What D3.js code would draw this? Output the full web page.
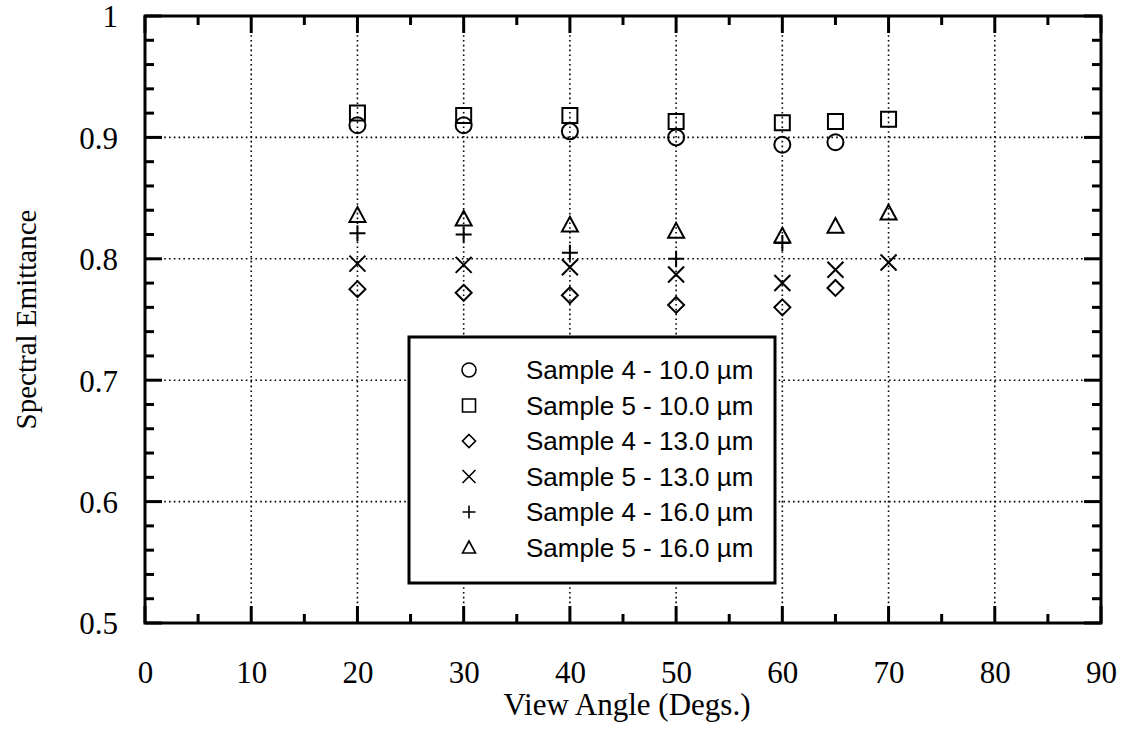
<!DOCTYPE html>
<html><head><meta charset="utf-8">
<script src="https://cdn.jsdelivr.net/npm/d3@7"></script>
<style>body{margin:0;background:#fff}svg{display:block}</style>
</head><body>
<svg id="c" width="1124" height="740"></svg>
<script>
const xTicks = [0,10,20,30,40,50,60,70,80,90];
const yTicks = [0.5,0.6,0.7,0.8,0.9,1];
const yTickLabels = ["0.5","0.6","0.7","0.8","0.9","1"];
const seriesNames = ["Sample 4 - 10.0 \u00b5m","Sample 5 - 10.0 \u00b5m","Sample 4 - 13.0 \u00b5m","Sample 5 - 13.0 \u00b5m","Sample 4 - 16.0 \u00b5m","Sample 5 - 16.0 \u00b5m"];
const seriesShapes = ["circle","square","diamond","times","plus","triangle"];
const s4_10_x = [20,30,40,50,60,65];
const s4_10_y = [0.910,0.910,0.905,0.900,0.894,0.896];
const s5_10_x = [20,30,40,50,60,65,70];
const s5_10_y = [0.920,0.918,0.918,0.913,0.912,0.913,0.915];
const s4_13_x = [20,30,40,50,60,65];
const s4_13_y = [0.775,0.772,0.770,0.762,0.760,0.776];
const s5_13_x = [20,30,40,50,60,65,70];
const s5_13_y = [0.796,0.795,0.793,0.787,0.780,0.791,0.797];
const s4_16_x = [20,30,40,50,60];
const s4_16_y = [0.821,0.820,0.805,0.800,0.813];
const s5_16_x = [20,30,40,50,60,65,70];
const s5_16_y = [0.836,0.833,0.828,0.823,0.819,0.827,0.838];

const seriesX = [s4_10_x,s5_10_x,s4_13_x,s5_13_x,s4_16_x,s5_16_x];
const seriesY = [s4_10_y,s5_10_y,s4_13_y,s5_13_y,s4_16_y,s5_16_y];

const L=145,R=1101,T=16,B=623;
const svg=d3.select("#c");
const x=d3.scaleLinear().domain([0,90]).range([L,R]);
const y=d3.scaleLinear().domain([0.5,1]).range([B,T]);

function shapePath(type,r){
  const p=d3.path();
  if(type==="circle"){p.arc(0,0,r,0,2*Math.PI);}
  else if(type==="square"){p.rect(-r,-r,2*r,2*r);}
  else if(type==="diamond"){p.moveTo(0,-r);p.lineTo(r,0);p.lineTo(0,r);p.lineTo(-r,0);p.closePath();}
  else if(type==="times"){p.moveTo(-r,-r);p.lineTo(r,r);p.moveTo(-r,r);p.lineTo(r,-r);}
  else if(type==="plus"){p.moveTo(-r,0);p.lineTo(r,0);p.moveTo(0,-r);p.lineTo(0,r);}
  else if(type==="triangle"){p.moveTo(0,-r);p.lineTo(r,r*0.85);p.lineTo(-r,r*0.85);p.closePath();}
  return p.toString();
}

// grid
const g=svg.append("g");
g.selectAll(".gx").data(xTicks.filter(d=>d>0&&d<90)).enter().append("line")
 .attr("x1",d=>x(d)).attr("x2",d=>x(d)).attr("y1",T).attr("y2",B)
 .attr("stroke","#000").attr("stroke-width",1.6).attr("stroke-dasharray","1.6,3.2");
g.selectAll(".gy").data(yTicks.filter(d=>d>0.5&&d<1)).enter().append("line")
 .attr("y1",d=>y(d)).attr("y2",d=>y(d)).attr("x1",L).attr("x2",R)
 .attr("stroke","#000").attr("stroke-width",1.6).attr("stroke-dasharray","1.6,3.2");

// ticks (inward) on all sides
const xMinor=d3.range(0,91,5), yMinor=d3.range(0,26).map(i=>+(0.5+i*0.02).toFixed(2));
const tk=svg.append("g").attr("stroke","#000").attr("stroke-width",3);
xMinor.forEach(v=>{const len=(v%10===0)?17:9;
  tk.append("line").attr("x1",x(v)).attr("x2",x(v)).attr("y1",B).attr("y2",B-len);
  tk.append("line").attr("x1",x(v)).attr("x2",x(v)).attr("y1",T).attr("y2",T+len);});
yMinor.forEach(v=>{const major=Math.abs(v*10-Math.round(v*10))<1e-6;const len=major?17:9;
  tk.append("line").attr("y1",y(v)).attr("y2",y(v)).attr("x1",L).attr("x2",L+len);
  tk.append("line").attr("y1",y(v)).attr("y2",y(v)).attr("x1",R).attr("x2",R-len);});

// axes via d3 for labels
const xAxis=d3.axisBottom(x).tickValues(xTicks).tickSize(0).tickPadding(0).tickFormat(d3.format("d"));
const xa=svg.append("g").attr("transform",`translate(0,${B})`).call(xAxis);
xa.select(".domain").remove();
xa.selectAll("text").attr("font-family","'Liberation Serif','Times New Roman',serif").attr("font-size",31).attr("fill","#000").attr("dy",null).attr("y",60);
const yAxis=d3.axisLeft(y).tickValues(yTicks).tickSize(0).tickPadding(0).tickFormat((d,i)=>yTickLabels[i]);
const ya=svg.append("g").attr("transform",`translate(${L},0)`).call(yAxis);
ya.select(".domain").remove();
ya.selectAll("text").attr("font-family","'Liberation Serif','Times New Roman',serif").attr("font-size",31).attr("fill","#000").attr("x",-27).attr("dy","0.35em");

// frame
svg.append("rect").attr("x",L).attr("y",T).attr("width",R-L).attr("height",B-T)
 .attr("fill","none").attr("stroke","#000").attr("stroke-width",3);

// points
seriesShapes.forEach((sh,i)=>{
  svg.append("g").selectAll("path").data(seriesX[i].map((v,j)=>[v,seriesY[i][j]])).enter().append("path")
   .attr("transform",d=>`translate(${x(d[0])},${y(d[1])})`)
   .attr("d",shapePath(sh, sh==="circle"?8:(sh==="square"?7.5:8)))
   .attr("fill","none").attr("stroke","#000").attr("stroke-width",2);
});

// legend
const lg=svg.append("g");
const LX=409, LY=337, LW=366, LH=246;
lg.append("rect").attr("x",LX).attr("y",LY).attr("width",LW).attr("height",LH)
 .attr("fill","#fff").attr("stroke","#000").attr("stroke-width",3);
seriesNames.forEach((n,i)=>{
  const cy=370+i*35.5;
  lg.append("path").attr("transform",`translate(469,${cy})`).attr("d",shapePath(seriesShapes[i],seriesShapes[i]==="circle"?7:6.5))
   .attr("fill","none").attr("stroke","#000").attr("stroke-width",1.6);
  lg.append("text").attr("x",526).attr("y",cy).attr("dy","0.36em").text(n)
   .attr("font-family","'Liberation Sans',Arial,sans-serif").attr("font-size",26).attr("fill","#000");
});

// axis titles
svg.append("text").attr("x",(L+R)/2+4).attr("y",715).attr("text-anchor","middle")
 .attr("font-family","'Liberation Serif','Times New Roman',serif").attr("font-size",31).text("View Angle (Degs.)");
svg.append("text").attr("transform",`translate(36,${(T+B)/2}) rotate(-90)`).attr("text-anchor","middle")
 .attr("font-family","'Liberation Serif','Times New Roman',serif").attr("font-size",29).text("Spectral Emittance");
</script>
</body></html>
